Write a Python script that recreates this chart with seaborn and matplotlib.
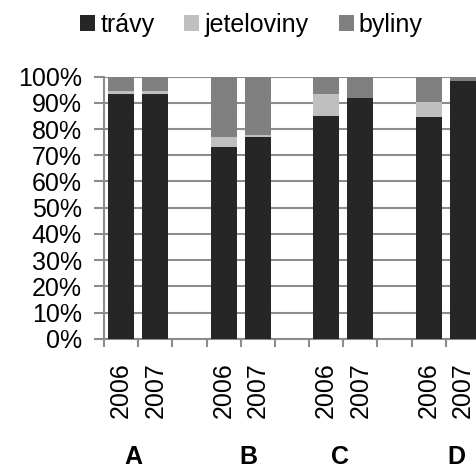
import numpy as np
import pandas as pd
import matplotlib
matplotlib.use("Agg")
import matplotlib.pyplot as plt
import seaborn as sns
from matplotlib.patches import Patch
from matplotlib.ticker import MultipleLocator, FixedLocator, PercentFormatter

# data (percent shares per site and year)
sites = ["A", "A", "B", "B", "C", "C", "D", "D"]
years = ["2006", "2007", "2006", "2007", "2006", "2007", "2006", "2007"]
travy = [93.5, 93.5, 73.0, 77.0, 85.0, 92.0, 84.5, 98.4]
jeteloviny = [1.0, 1.0, 4.0, 0.7, 8.5, 0.0, 6.0, 0.0]
byliny = [5.5, 5.5, 23.0, 22.3, 6.5, 8.0, 9.5, 1.6]

group_labels = ["A", "B", "C", "D"]
series_names = ["trávy", "jeteloviny", "byliny"]
colors = ["#262626", "#bfbfbf", "#808080"]

keys = [s + "-" + y for s, y in zip(sites, years)]
# empty slot between each site
order = []
for i, g in enumerate(group_labels):
    order += [g + "-2006", g + "-2007"]
    if i < len(group_labels) - 1:
        order.append("gap%d" % i)

df = pd.DataFrame({"key": keys, "site": sites, "year": years,
                   "travy": travy, "jetel": jeteloviny, "byliny": byliny})
df["lvl1"] = df["travy"]
df["lvl2"] = df["travy"] + df["jetel"]
df["lvl3"] = df["lvl2"] + df["byliny"]

plt.rcParams["font.family"] = ["Liberation Sans", "DejaVu Sans"]
plt.rcParams["font.size"] = 18

fig = plt.figure(figsize=(4.77, 4.71), dpi=100)
ax = fig.add_axes([104 / 477, 132.3 / 471, 376 / 477, 262 / 471])

# stacked bars drawn as overlapping cumulative totals
for col, c in zip(["lvl3", "lvl2", "lvl1"], [colors[2], colors[1], colors[0]]):
    sns.barplot(data=df, x="key", y=col, order=order, color=c, width=0.76,
                linewidth=0, saturation=1, errorbar=None, ax=ax, zorder=3)

ax.set_ylim(0, 100)
ax.set_xlim(-0.5, len(order) - 0.5)
ax.yaxis.set_major_locator(MultipleLocator(10))
ax.yaxis.set_major_formatter(PercentFormatter(decimals=0))
ax.grid(axis="y", color="#8c8c8c", linewidth=1.5, zorder=0)
ax.set_axisbelow(True)

tick_labels = [k.split("-")[1] if "-" in k else "" for k in order]
ax.set_xticks(range(len(order)))
ax.set_xticklabels(tick_labels, rotation=90)
ax.xaxis.set_minor_locator(FixedLocator(np.arange(-0.5, len(order), 1.0)))
ax.tick_params(axis="x", which="major", length=0, pad=17)
ax.tick_params(axis="x", which="minor", length=6, width=1.5, color="#8c8c8c")
ax.tick_params(axis="y", length=7, width=1.5, color="#8c8c8c", pad=9)
for lab in ax.get_yticklabels():
    lab.set_horizontalalignment("right")

ax.set_xlabel("")
ax.set_ylabel("")
for side in ["top", "right"]:
    ax.spines[side].set_visible(False)
for side in ["left", "bottom"]:
    ax.spines[side].set_color("#8c8c8c")
    ax.spines[side].set_linewidth(1.5)

# site letters under the year labels
for g, xpos in zip(group_labels, [0.35, 3.71, 6.4, 9.82]):
    ax.text(xpos, -45, g, ha="center", va="center", fontweight="bold",
            transform=ax.transData, clip_on=False)

handles = [Patch(facecolor=c, edgecolor="none") for c in colors]
fig.legend(handles, series_names, loc="center", bbox_to_anchor=(0.527, 0.947),
           ncol=3, frameon=False, handlelength=0.6, handleheight=0.6,
           handletextpad=0.2, columnspacing=1.2, borderaxespad=0)

fig.savefig("out.png", dpi=100)
